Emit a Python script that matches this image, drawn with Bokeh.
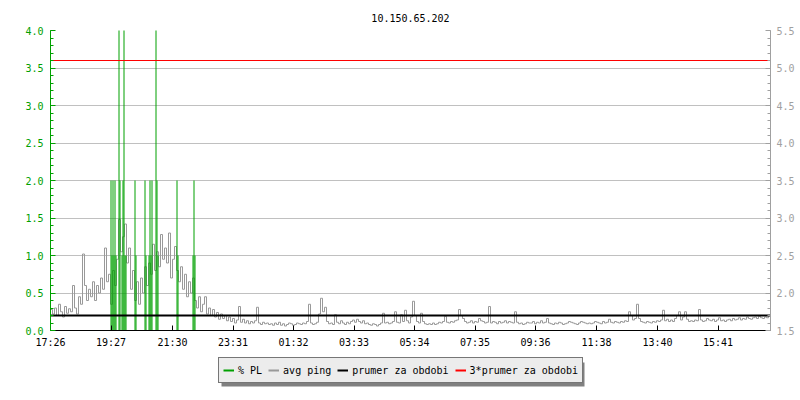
import numpy as np
from bokeh.plotting import figure
from bokeh.layouts import column
from bokeh.models import (Range1d, LinearAxis, SingleIntervalTicker, FixedTicker,
                          PrintfTickFormatter, Legend, LegendItem)
from bokeh.embed import file_html
from bokeh.resources import INLINE

title_text = "10.150.65.202"
start_label = "17:26"
tick_labels = ["17:26", "19:27", "21:30", "23:31", "01:32", "03:33",
               "05:34", "07:35", "09:36", "11:38", "13:40", "15:41"]
span_minutes = 1440
sample_step = 4  # minutes between ping samples

# avg ping [ms] (right axis)
ping_ms = [
    1.78, 1.72, 1.80, 1.70, 1.85, 1.75, 1.68, 1.82, 1.73, 1.79,
    1.75, 2.10, 1.80, 1.72, 1.95, 1.85, 2.52, 2.10, 1.90, 2.05,
    1.95, 2.15, 1.90, 2.10, 2.00, 2.20, 2.05, 2.60, 2.15, 2.25,
    1.85, 2.30, 2.10, 2.45, 2.98, 2.55, 2.75, 2.92, 2.40, 2.60,
    2.05, 2.30, 1.90, 2.15, 1.85, 2.20, 2.00, 2.35, 2.10, 2.40,
    2.25, 2.65, 2.30, 2.55, 2.35, 2.78, 2.45, 2.60, 2.40, 2.80,
    2.20, 2.45, 2.62, 2.30, 2.15, 2.35, 2.05, 2.25, 1.95, 2.15,
    2.00, 2.20, 1.90, 1.80, 1.95, 1.75, 1.85, 1.95, 1.72, 1.80,
    1.70, 1.78, 1.68, 1.74, 1.65, 1.72, 1.66, 1.70, 1.63, 1.68,
    1.62, 1.66, 1.60, 1.64, 1.82, 1.61, 1.65, 1.60, 1.63, 1.59,
    1.62, 1.60, 1.63, 1.81, 1.60, 1.58, 1.61, 1.59, 1.60, 1.58,
    1.59, 1.57, 1.60, 1.58, 1.61, 1.57, 1.59, 1.56, 1.58, 1.60,
    1.59, 1.57, 1.58, 1.60, 1.59, 1.58, 1.60, 1.59, 1.62, 1.85,
    1.60, 1.58, 1.59, 1.61, 1.72, 1.93, 1.75, 1.81, 1.62, 1.59,
    1.60, 1.58, 1.71, 1.61, 1.59, 1.63, 1.60, 1.58, 1.61, 1.59,
    1.62, 1.64, 1.61, 1.65, 1.62, 1.60, 1.63, 1.59, 1.60, 1.58,
    1.57, 1.59, 1.58, 1.56, 1.58, 1.60, 1.73, 1.60, 1.61, 1.59,
    1.60, 1.62, 1.75, 1.61, 1.60, 1.71, 1.62, 1.77, 1.63, 1.60,
    1.68, 1.89, 1.70, 1.62, 1.60, 1.73, 1.62, 1.59, 1.58, 1.59,
    1.58, 1.60, 1.58, 1.59, 1.61, 1.60, 1.62, 1.69, 1.61, 1.60,
    1.62, 1.61, 1.63, 1.64, 1.78, 1.70, 1.66, 1.62, 1.60, 1.61,
    1.63, 1.60, 1.62, 1.61, 1.66, 1.63, 1.62, 1.60, 1.61, 1.82,
    1.60, 1.62, 1.61, 1.59, 1.62, 1.60, 1.61, 1.63, 1.60, 1.62,
    1.61, 1.60, 1.75, 1.61, 1.59, 1.60, 1.58, 1.59, 1.61, 1.60,
    1.60, 1.62, 1.59, 1.61, 1.60, 1.63, 1.60, 1.61, 1.66, 1.60,
    1.59, 1.58, 1.60, 1.59, 1.61, 1.60, 1.58, 1.59, 1.60, 1.62,
    1.61, 1.60, 1.59, 1.58, 1.60, 1.62, 1.61, 1.60, 1.59, 1.60,
    1.59, 1.60, 1.62, 1.61, 1.60, 1.59, 1.62, 1.60, 1.61, 1.65,
    1.61, 1.60, 1.62, 1.61, 1.60, 1.62, 1.61, 1.63, 1.62, 1.75,
    1.70, 1.64, 1.66, 1.85, 1.66, 1.62, 1.61, 1.60, 1.62, 1.61,
    1.60, 1.62, 1.61, 1.63, 1.62, 1.64, 1.77, 1.63, 1.65, 1.62,
    1.64, 1.62, 1.66, 1.70, 1.75, 1.64, 1.68, 1.75, 1.65, 1.62,
    1.63, 1.62, 1.64, 1.63, 1.78, 1.64, 1.62, 1.63, 1.66, 1.64,
    1.63, 1.65, 1.62, 1.64, 1.67, 1.63, 1.64, 1.62, 1.64, 1.65,
    1.63, 1.66, 1.64, 1.65, 1.67, 1.64, 1.66, 1.65, 1.68, 1.66,
    1.65, 1.67, 1.68, 1.66, 1.69, 1.67, 1.66, 1.68, 1.67, 1.69,
]

# packet loss events: minute after start, % PL (left axis)
pl_minutes = [121, 123, 125, 127, 129, 131, 137, 139, 143, 145, 147, 149, 151,
              169, 171, 189, 191, 197, 199, 201, 203, 211, 213, 215,
              253, 255, 285, 287, 289]
pl_values = [2, 1, 2, 1, 2, 1, 5, 2, 1, 2, 5, 1, 1,
             2, 1, 2, 1, 1, 2, 1, 2, 5, 2, 1,
             2, 1, 1, 2, 1]

avg_ping = 1.70
triple_avg = 5.10

series_names = ["% PL", "avg ping", "prumer za obdobi", "3*prumer za obdobi"]

GREEN = "#00a000"
GRAY = "#999999"
AXGRAY = "#a0a0a0"
RED = "#ff0000"
FONT = "DejaVu Sans Mono"
FS = "10px"


def to_min(lbl):
    h, m = map(int, lbl.split(":"))
    h0, m0 = map(int, start_label.split(":"))
    return ((h * 60 + m) - (h0 * 60 + m0)) % 1440


tick_minutes = [to_min(t) for t in tick_labels]
ping_x = [i * sample_step for i in range(len(ping_ms))]

# ---------------- main chart ----------------
p = figure(frame_width=720, frame_height=300, x_range=Range1d(0, span_minutes),
           y_range=Range1d(0, 4),
           output_backend="svg", toolbar_location=None, title=title_text,
           min_border_left=50, min_border_right=30, min_border_top=30, min_border_bottom=20)
p.extra_y_ranges = {"ping": Range1d(1.5, 5.5)}
p.outline_line_color = None
p.background_fill_color = "white"
p.border_fill_color = "white"

p.title.align = "center"
p.title.text_font = FONT
p.title.text_font_size = FS
p.title.text_font_style = "normal"
p.title.text_color = "black"
p.title.standoff = 17

p.xgrid.visible = False
p.ygrid.ticker = SingleIntervalTicker(interval=0.5, num_minor_ticks=5)
p.ygrid.grid_line_color = "#c0c0c0"

la = p.yaxis[0]
la.ticker = SingleIntervalTicker(interval=0.5, num_minor_ticks=5)
la.formatter = PrintfTickFormatter(format="%.1f")
la.axis_line_color = GREEN
la.major_tick_line_color = GREEN
la.minor_tick_line_color = GREEN
la.major_label_text_color = GREEN
la.major_tick_in = 5
la.major_tick_out = 0
la.minor_tick_in = 3
la.minor_tick_out = 0
la.major_label_standoff = 7
la.major_label_text_font = FONT
la.major_label_text_font_size = FS

ra = LinearAxis(y_range_name="ping",
                ticker=SingleIntervalTicker(interval=0.5, num_minor_ticks=5),
                formatter=PrintfTickFormatter(format="%.1f"))
ra.axis_line_color = AXGRAY
ra.major_tick_line_color = AXGRAY
ra.minor_tick_line_color = AXGRAY
ra.major_label_text_color = AXGRAY
ra.major_tick_in = 5
ra.major_tick_out = 0
ra.minor_tick_in = 3
ra.minor_tick_out = 0
ra.major_label_standoff = 6
ra.major_label_text_font = FONT
ra.major_label_text_font_size = FS
p.add_layout(ra, "right")

ba = p.xaxis[0]
ba.ticker = FixedTicker(ticks=tick_minutes, minor_ticks=[])
ba.major_label_overrides = {m: l for m, l in zip(tick_minutes, tick_labels)}
ba.axis_line_color = "black"
ba.major_tick_line_color = "black"
ba.major_tick_in = 5
ba.major_tick_out = 0
ba.minor_tick_line_color = None
ba.major_label_standoff = 6
ba.major_label_text_font = FONT
ba.major_label_text_font_size = FS
ba.major_label_text_color = "black"

p.step(ping_x, ping_ms, mode="after", line_color=GRAY, line_width=1, y_range_name="ping")
p.segment(x0=pl_minutes, y0=[0] * len(pl_minutes), x1=pl_minutes, y1=pl_values,
          line_color=GREEN, line_width=1)
p.line([0, span_minutes], [avg_ping, avg_ping], line_color="black", line_width=2,
       y_range_name="ping")
p.line([0, span_minutes], [triple_avg, triple_avg], line_color=RED, line_width=1,
       y_range_name="ping")

# ---------------- legend strip (frame aligned with the chart frame) ----------------
lf = figure(width=800, height=50, x_range=Range1d(0, 720), y_range=Range1d(0, 50),
            output_backend="svg", toolbar_location=None, x_axis_type=None, y_axis_type=None,
            min_border=0)
lf.grid.visible = False
lf.outline_line_color = None
lf.background_fill_color = "white"
lf.border_fill_color = "white"

# drop shadow of the legend box
lf.quad(left=[171], right=[534], bottom=[14], top=[38], fill_color="#808080",
        line_color=None)

legend_colors = [GREEN, GRAY, "black", RED]
legend_renderers = [lf.line(x=[-100, -90], y=[-100, -100], line_color=c, line_width=2)
                    for c in legend_colors]

legend = Legend(items=[LegendItem(label=n, renderers=[r])
                       for n, r in zip(series_names, legend_renderers)],
                orientation="horizontal", location=(168, 17), margin=0,
                padding=4, spacing=6, label_standoff=4, glyph_width=11, glyph_height=16,
                label_height=16, label_text_font=FONT, label_text_font_size=FS,
                label_text_color="black", background_fill_color="#ececec",
                background_fill_alpha=1.0, border_line_color="black", border_line_width=1)
lf.add_layout(legend, "center")

layout = column(p, lf, spacing=0)
open("out.html", "w").write(file_html(layout, INLINE))
